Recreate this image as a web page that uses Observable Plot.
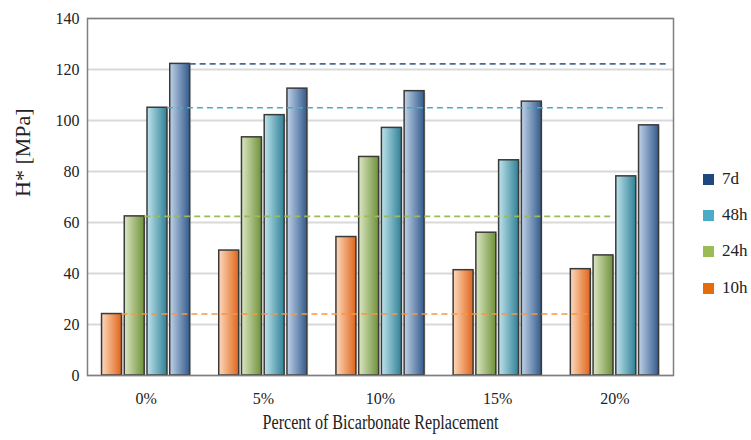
<!DOCTYPE html>
<html>
<head>
<meta charset="utf-8">
<script src="https://cdn.jsdelivr.net/npm/d3@7"></script>
<script src="https://cdn.jsdelivr.net/npm/@observablehq/plot@0.6"></script>
<style>
  html, body { margin: 0; padding: 0; background: #fff; }
  #wrap { position: relative; width: 751px; height: 440px; font-family: "Liberation Serif", serif; }
  .leg { position: absolute; left: 703px; font-family: "Liberation Serif", serif; font-size: 17px; color: #222; display: flex; align-items: center; }
  .leg span.sw { display: inline-block; width: 11px; height: 11px; margin-right: 8px; }
  svg text { font-family: "Liberation Serif", serif; }
</style>
</head>
<body>
<div id="wrap"></div>
<script>
const categories = ["0%", "5%", "10%", "15%", "20%"];
const series = ["10h", "24h", "48h", "7d"];
const h10 = [24.1, 49.0, 54.3, 41.3, 41.7];
const h24 = [62.4, 93.4, 85.7, 56.0, 47.1];
const h48 = [105.0, 102.1, 97.1, 84.4, 78.1];
const d7  = [122.2, 112.5, 111.5, 107.4, 98.1];
const yTicks = [0, 20, 40, 60, 80, 100, 120, 140];
const legendOrder = ["7d", "48h", "24h", "10h"];
const xTitle = "Percent of Bicarbonate Replacement";
const yTitle = "H* [MPa]";

const seriesValues = {"10h": h10, "24h": h24, "48h": h48, "7d": d7};
const grad = {
  "10h": ["#fdd9bd", "#e0651a"],
  "24h": ["#dbe7c2", "#70913a"],
  "48h": ["#bfe3ec", "#2f8197"],
  "7d":  ["#c0d2e8", "#335b8c"]
};
const legendColor = {"10h": "#e46c0a", "24h": "#9bbb59", "48h": "#4bacc6", "7d": "#1f497d"};
const lineColor = {"10h": "#f79646", "24h": "#9bbb59", "48h": "#4bacc6", "7d": "#4a6a92"};

const step = 0.194, bw = 0.17;
const bars = [];
series.forEach((s, j) => {
  categories.forEach((c, i) => {
    const cx = i + (j - 1.5) * step;
    bars.push({series: s, cat: c, x1: cx - bw / 2, x2: cx + bw / 2, value: seriesValues[s][i]});
  });
});
const refs = series.map((s, j) => {
  const right0 = 0 + (j - 1.5) * step + bw / 2;
  const right4 = 4 + (j - 1.5) * step + bw / 2;
  return {series: s, x1: right0, x2: j >= 2 ? 4.45 : right4, value: seriesValues[s][0]};
});

const FONT = '"Liberation Serif", serif';
const chart = Plot.plot({
  width: 751,
  height: 440,
  marginLeft: 87,
  marginRight: 78,
  marginTop: 18,
  marginBottom: 65,
  style: {fontFamily: FONT, background: "#fff", color: "#222"},
  x: {domain: [-0.5, 4.5]},
  y: {domain: [0, 140]},
  marks: [
    Plot.gridY(yTicks, {stroke: "#d9d9d9", strokeOpacity: 1, strokeWidth: 2}),
    Plot.rect(bars, {x1: d => d.x1 + 0.012, x2: d => d.x2 + 0.012, y1: 0, y2: d => d.value - 0.4, fill: "#bbb", fillOpacity: 0.5}),
    Plot.rect(bars, {x1: "x1", x2: "x2", y1: 0, y2: "value", fill: d => `url(#g-${d.series})`, stroke: "#3a3a3a", strokeWidth: 1.5}),
    Plot.ruleY(refs, {y: "value", x1: "x1", x2: "x2", stroke: d => lineColor[d.series], strokeWidth: 1.6, strokeDasharray: "6,4"}),
    Plot.frame({stroke: "#7f7f7f", strokeWidth: 1.5}),
    Plot.axisY(yTicks, {tickSize: 0, tickPadding: 8, fontSize: 16, label: null}),
    Plot.axisX([0, 1, 2, 3, 4], {tickSize: 0, tickPadding: 17, fontSize: 16, tickFormat: i => categories[i], label: null}),
    Plot.text([xTitle], {frameAnchor: "bottom", dy: 53, fontSize: 20, text: d => d}),
    Plot.text([yTitle], {frameAnchor: "left", dx: -65, rotate: -90, fontSize: 22, text: d => d})
  ]
});

const svg = d3.select(chart);
svg.selectAll("text").attr("font-family", FONT);
svg.selectAll("text").filter(function () { return this.textContent === xTitle; })
  .attr("textLength", 236).attr("lengthAdjust", "spacingAndGlyphs");
const defs = svg.insert("defs", ":first-child");
series.forEach(s => {
  const g = defs.append("linearGradient").attr("id", `g-${s}`).attr("x1", "0%").attr("x2", "100%").attr("y1", "0%").attr("y2", "0%");
  g.append("stop").attr("offset", "0%").attr("stop-color", grad[s][0]);
  g.append("stop").attr("offset", "100%").attr("stop-color", grad[s][1]);
});

const wrap = document.getElementById("wrap");
wrap.appendChild(chart);
const legendTops = [169, 205, 241, 278];
legendOrder.forEach((s, k) => {
  const d = document.createElement("div");
  d.className = "leg";
  d.style.top = legendTops[k] + "px";
  d.innerHTML = `<span class="sw" style="background:${legendColor[s]}"></span>${s}`;
  wrap.appendChild(d);
});
</script>
</body>
</html>
